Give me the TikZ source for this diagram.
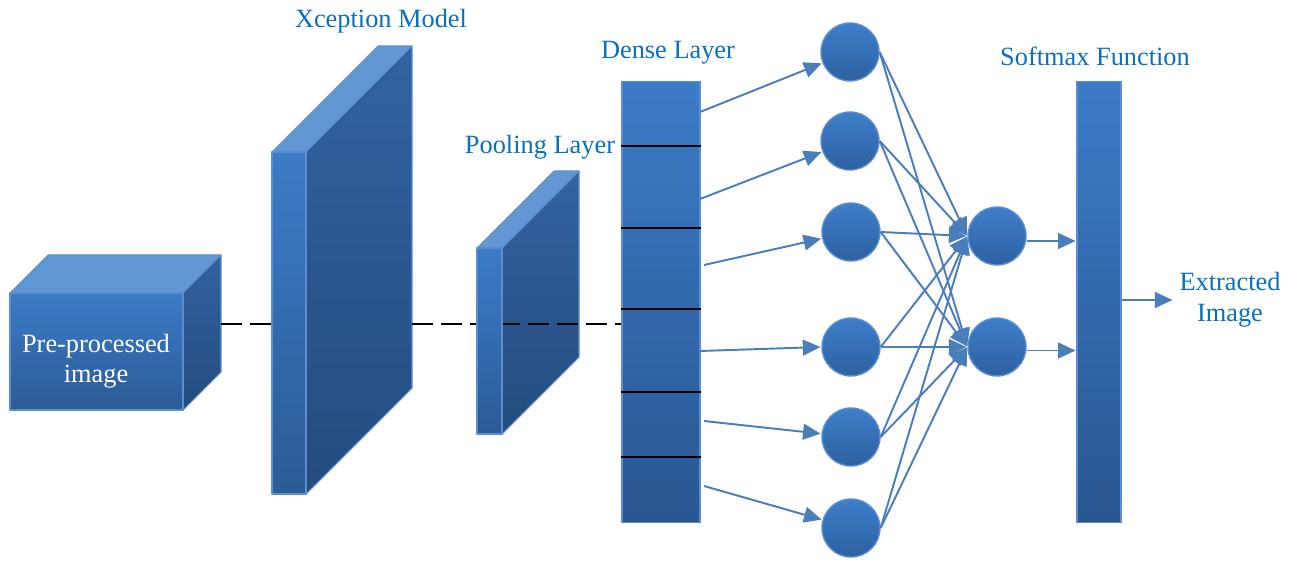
\documentclass[tikz,border=0pt]{standalone}
\usepackage{fontspec}
\setmainfont{Liberation Serif}
\usetikzlibrary{arrows.meta,calc,fit}

\definecolor{frontTop}{HTML}{3C7BC7}
\definecolor{frontBot}{HTML}{2C5B95}
\definecolor{sideTop}{HTML}{3163A2}
\definecolor{sideBot}{HTML}{254B7C}
\definecolor{topFace}{HTML}{6397D3}
\definecolor{edgeBlue}{HTML}{5A8ED0}
\definecolor{wireBlue}{HTML}{4A7EBB}
\definecolor{labelBlue}{HTML}{0A70BE}
\definecolor{nodeTop}{HTML}{3E7ECA}
\definecolor{nodeBot}{HTML}{2D60A0}

\tikzset{
  facetop/.style={fill=topFace, draw=edgeBlue, line width=0.6pt, line join=round},
  faceside/.style={top color=sideTop, bottom color=sideBot, draw=edgeBlue, line width=0.6pt, line join=round},
  facefront/.style={top color=frontTop, bottom color=frontBot, draw=edgeBlue, line width=0.6pt, inner sep=0pt, line join=round},
  barbox/.style={rectangle, top color=frontTop, bottom color=nodeBot!90!black, draw=edgeBlue, line width=0.6pt, inner sep=0pt},
  neuron/.style={circle, minimum size=1.16cm, inner sep=0pt, top color=nodeTop, bottom color=nodeBot, draw=edgeBlue, line width=0.8pt},
  divider/.style={black, line width=1.2pt},
  dashline/.style={black, line width=1.7pt, dash pattern=on 0.42cm off 0.16cm},
  wire/.style={wireBlue, line width=1.1pt, -{Triangle[length=10pt,width=9pt]}, shorten >=0.5pt},
  title/.style={text=labelBlue, font=\fontsize{15}{17}\selectfont},
  facetext/.style={text=white, font=\fontsize{15}{17}\selectfont, align=center}
}

% top and side faces of a slab: front corners (x1,y1)-(x2,y2), depth d
\newcommand\slabback[5]{%
  \path[facetop] (#1,#2) -- (#1+#5,#2-#5) -- (#3+#5,#2-#5) -- (#3,#2) -- cycle;
  \path[faceside] (#3,#2) -- (#3+#5,#2-#5) -- (#3+#5,#4-#5) -- (#3,#4) -- cycle;
}
% front face of a slab as a named node
\newcommand\slabfront[5]{%
  \node[facefront, fit={(#2,#3)(#4,#5)}] (#1) {};
}

\begin{document}
\begin{tikzpicture}[x=0.02cm, y=-0.02cm]
\useasboundingbox (0,0) rectangle (1289,561);

% input volume
\slabback{10}{293}{183}{410}{38}
\slabfront{pre}{10}{293}{183}{410}
\node[facetext] (pretext) at (96,361) {Pre-processed\\image};

% Xception feature block
\slabback{272}{152}{306}{494}{106}
\slabfront{xcep}{272}{152}{306}{494}

% pooling block (back faces first, front face after the dashed link)
\slabback{477}{248}{502}{434}{77}

% dense layer
\node[barbox, minimum width=1.56cm, minimum height=8.84cm] (dense) at (661,302) {};
\foreach \yy in {146,228,309,392,457}
  \draw[divider] (dense.west |- 0,\yy) -- (dense.east |- 0,\yy);

% dashed feature flow
\coordinate (preback) at (221,324);
\coordinate (xcepback) at (412,324);
\draw[dashline] (preback) -- (xcep.west |- preback);
\draw[dashline] (xcepback) -- (dense.west |- xcepback);

\slabfront{pool}{477}{248}{502}{434}

% softmax bar
\node[barbox, minimum width=0.88cm, minimum height=8.84cm] (soft) at (1099,302) {};

% hidden neurons
\node[neuron] (h1) at (850,52) {};
\node[neuron] (h2) at (850,141) {};
\node[neuron] (h3) at (851,232) {};
\node[neuron] (h4) at (851,347) {};
\node[neuron] (h5) at (851,437) {};
\node[neuron] (h6) at (851,528) {};
% output neurons
\node[neuron] (o1) at (997,236) {};
\node[neuron] (o2) at (997,347) {};

% dense layer to hidden neurons
\coordinate (d1) at (700,112);
\coordinate (d2) at (700,199);
\coordinate (d3) at (704,265);
\coordinate (d4) at (700,351);
\coordinate (d5) at (704,421);
\coordinate (d6) at (704,486);
\draw[wire] (d1) -- (h1);
\draw[wire] (d2) -- (h2);
\draw[wire] (d3) -- (h3);
\draw[wire] (d4) -- (h4.west);
\draw[wire] (d5) -- (h5);
\draw[wire] (d6) -- (h6);

% hidden to output, fully connected
\foreach \h in {h1,h2,h3,h4,h5,h6}
  \foreach \o in {o1,o2}
    \draw[wire] (\h.east) -- (\o.west);

% outputs into softmax
\draw[wire] ([yshift=-0.1cm]o1.east) -- ([yshift=-0.1cm]o1.east -| soft.west);
\draw[wire] ([yshift=-0.07cm]o2.east) -- ([yshift=-0.07cm]o2.east -| soft.west);

% result
\node[title, align=center, font=\fontsize{15}{17.5}\selectfont] (result) at (1230,300) {Extracted\\Image};
\draw[wire] (soft.east |- result.west) -- (result.west);

% captions
\node[title] (lxcep) at (381,21) {Xception Model};
\node[title] (lpool) at (540,147) {Pooling Layer};
\node[title] (ldense) at (668,53) {Dense Layer};
\node[title] (lsoft) at (1095,56) {Softmax Function};
\end{tikzpicture}
\end{document}
